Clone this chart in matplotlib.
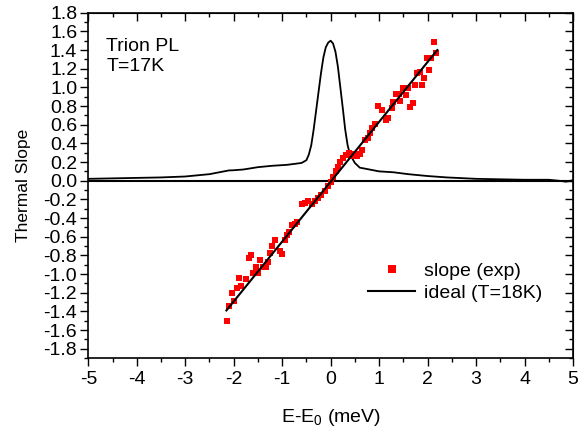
import numpy as np
import matplotlib
matplotlib.use('Agg')
import matplotlib.pyplot as plt
from matplotlib.ticker import MultipleLocator

plt.rcParams['font.family'] = ['Liberation Sans', 'DejaVu Sans']
plt.rcParams['axes.unicode_minus'] = False
plt.rcParams['mathtext.fontset'] = 'custom'
plt.rcParams['mathtext.rm'] = 'Liberation Sans'
plt.rcParams['mathtext.it'] = 'Liberation Sans'

# PL spectrum (normalised)
pl_x = [-5.0, -4.5, -4.0, -3.5, -3.0, -2.5, -2.2, -2.1, -2.0, -1.8, -1.5, -1.2, -0.9, -0.6,
        -0.5, -0.45, -0.4, -0.35, -0.3, -0.25, -0.2, -0.15, -0.1, -0.05, 0.0, 0.05, 0.1,
        0.15, 0.2, 0.25, 0.3, 0.35, 0.4, 0.5, 0.6, 0.8, 1.0, 1.3, 1.6, 2.0, 2.4, 3.0,
        3.5, 4.0, 4.5, 4.7, 4.85, 5.0]
pl_y = [0.02, 0.025, 0.03, 0.035, 0.045, 0.07, 0.10, 0.11, 0.112, 0.12, 0.145, 0.16, 0.17, 0.19,
        0.22, 0.28, 0.38, 0.55, 0.75, 0.95, 1.15, 1.32, 1.43, 1.48, 1.50, 1.47, 1.38,
        1.22, 1.00, 0.78, 0.55, 0.38, 0.28, 0.19, 0.14, 0.12, 0.10, 0.09, 0.07, 0.05, 0.035, 0.02,
        0.015, 0.01, 0.01, 0.0, -0.01, 0.005]

# measured thermal slope
exp_x = [-2.13, -2.09, -2.00, -2.04, -1.94, -1.89, -1.84, -1.74, -1.69, -1.65, -1.60, -1.54,
         -1.49, -1.45, -1.39, -1.34, -1.29, -1.25, -1.20, -1.14, -1.05, -1.00, -0.95, -0.91,
         -0.86, -0.80, -0.74, -0.69, -0.60, -0.53, -0.46, -0.39, -0.33, -0.26, -0.19, -0.12,
         -0.05, 0.00, 0.05, 0.11, 0.15, 0.20, 0.26, 0.31, 0.38, 0.43, 0.48, 0.55, 0.60, 0.64,
         0.71, 0.77, 0.81, 0.86, 0.91, 0.98, 1.05, 1.14, 1.19, 1.26, 1.29, 1.34, 1.41, 1.44,
         1.49, 1.55, 1.60, 1.63, 1.69, 1.74, 1.78, 1.84, 1.88, 1.93, 1.99, 2.03, 2.08, 2.13, 2.18]
exp_y = [-1.50, -1.34, -1.29, -1.20, -1.15, -1.04, -1.13, -1.05, -0.83, -0.80, -0.99, -0.92,
         -0.99, -0.85, -0.93, -0.92, -0.87, -0.77, -0.70, -0.64, -0.75, -0.79, -0.64, -0.58,
         -0.55, -0.47, -0.46, -0.44, -0.25, -0.24, -0.22, -0.25, -0.22, -0.19, -0.15, -0.11,
         -0.06, -0.01, 0.04, 0.10, 0.15, 0.20, 0.24, 0.28, 0.30, 0.26, 0.29, 0.26, 0.29, 0.33,
         0.44, 0.46, 0.51, 0.57, 0.61, 0.80, 0.76, 0.65, 0.67, 0.78, 0.84, 0.93, 0.93, 0.85,
         0.99, 0.92, 0.99, 0.79, 0.83, 1.03, 1.15, 1.17, 1.03, 1.10, 1.31, 1.19, 1.32, 1.49, 1.37]

# ideal slope line for T=18K
ideal_x = [-2.15, 2.20]
ideal_y = [-1.39, 1.40]

fig = plt.figure(figsize=(5.78, 4.34), dpi=100)
ax = fig.add_axes([0.1528, 0.1751, 0.8385, 0.7956])

ax.axhline(0, color='black', lw=1.5, zorder=1)
ax.plot(pl_x, pl_y, color='black', lw=1.3, zorder=2)
ax.plot(exp_x, exp_y, 's', color='#ff0000', ms=4.0, mew=0, ls='none', label='slope (exp)', zorder=3)
ax.plot(ideal_x, ideal_y, color='black', lw=1.5, label='ideal (T=18K)', zorder=4)

ax.set_xlim(-5, 5)
ax.set_ylim(-1.9, 1.8)
ax.xaxis.set_major_locator(MultipleLocator(1))
ax.xaxis.set_minor_locator(MultipleLocator(0.5))
ax.yaxis.set_major_locator(MultipleLocator(0.2))
ax.yaxis.set_minor_locator(MultipleLocator(0.1))
ax.yaxis.set_major_formatter(plt.FuncFormatter(lambda v, p: '%.1f' % v if abs(v) > 1e-9 else '0.0'))
ax.tick_params(which='major', direction='out', length=6, width=1, labelsize=14, pad=3)
ax.tick_params(which='minor', direction='out', length=3, width=1)
ax.tick_params(axis='y', which='major', pad=2)

# mirrored ticks pointing inside on top/right
top = ax.secondary_xaxis('top')
top.xaxis.set_major_locator(MultipleLocator(1))
top.xaxis.set_minor_locator(MultipleLocator(0.5))
top.tick_params(which='major', direction='in', length=6, width=1, labeltop=False)
top.tick_params(which='minor', direction='in', length=3, width=1)
right = ax.secondary_yaxis('right')
right.yaxis.set_major_locator(MultipleLocator(0.2))
right.yaxis.set_minor_locator(MultipleLocator(0.1))
right.tick_params(which='major', direction='in', length=6, width=1, labelright=False)
right.tick_params(which='minor', direction='in', length=3, width=1)

for s in ax.spines.values():
    s.set_linewidth(1.2)

ax.set_xlabel('E-E$_0$ (meV)', fontsize=14, labelpad=14)
ax.set_ylabel('Thermal Slope', fontsize=12.5, labelpad=9)

ax.text(0.037, 0.928, 'Trion PL\nT=17K', transform=ax.transAxes, fontsize=14,
        va='top', ha='left', linespacing=1.3)

ax.legend(frameon=False, loc='upper left', bbox_to_anchor=(0.578, 0.278), fontsize=14,
          handlelength=2.4, handletextpad=0.45, borderpad=0, borderaxespad=0,
          labelspacing=0.25, markerscale=1.6)

fig.savefig('out.png', dpi=100)
